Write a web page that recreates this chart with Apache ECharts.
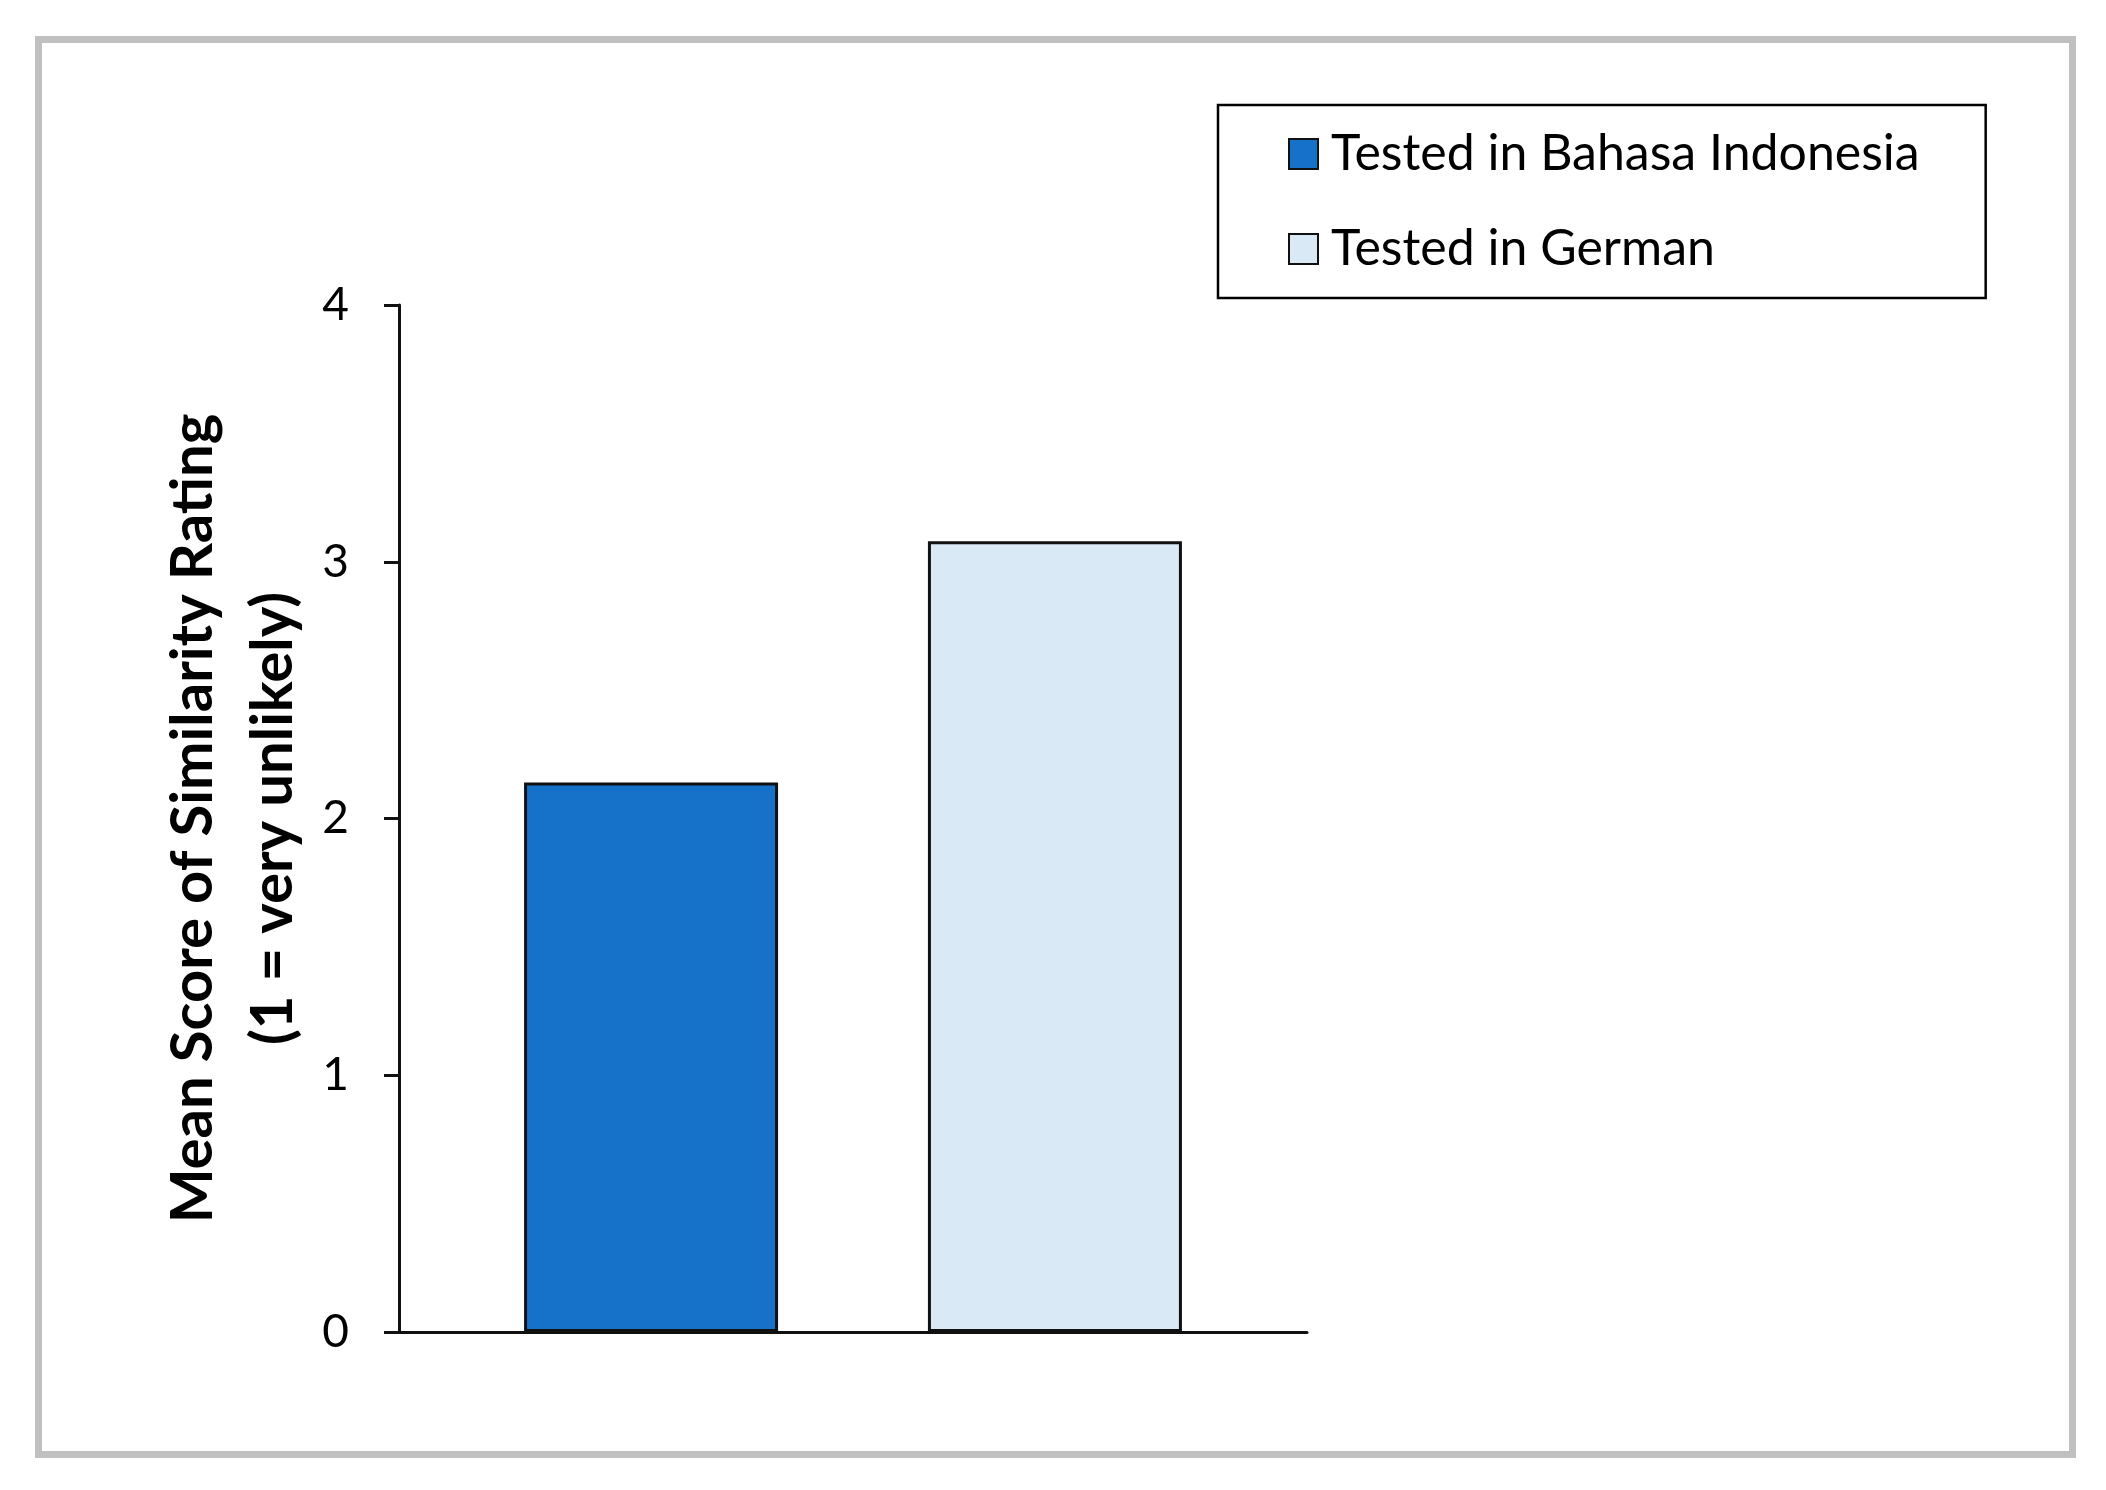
<!DOCTYPE html>
<html>
<head>
<meta charset="utf-8">
<script src="https://cdn.jsdelivr.net/npm/echarts@6/dist/echarts.min.js"></script>
<style>
html,body{margin:0;padding:0;background:#fff;}
#chart{width:2106px;height:1490px;}
</style>
</head>
<body>
<div id="chart"></div>
<script>
const categories = [''];
const seriesNames = ['Tested in Bahasa Indonesia', 'Tested in German'];
const bahasaValues = [2.14];
const germanValues = [3.08];
const yTicks = [0, 1, 2, 3, 4];
const yAxisTitle = 'Mean Score of Similarity Rating\n(1 = very unlikely)';

const chart = echarts.init(document.getElementById('chart'), null, {renderer: 'canvas'});
const FONT = 'Lato';
chart.setOption({
  backgroundColor: '#ffffff',
  animation: false,
  graphic: [{
    type: 'rect',
    shape: {x: 38.5, y: 39.5, width: 2034, height: 1415},
    style: {fill: 'none', stroke: '#c0c0c0', lineWidth: 7},
    silent: true
  }],
  grid: {left: 399, right: 799, top: 305, bottom: 158, containLabel: false},
  legend: {
    orient: 'vertical',
    left: 1218,
    top: 105,
    padding: [24, 66, 24, 70],
    itemWidth: 29,
    itemHeight: 30,
    itemGap: 45,
    borderColor: '#000',
    borderWidth: 2.5,
    backgroundColor: '#fff',
    textStyle: {fontFamily: FONT, fontSize: 50, color: '#000', lineHeight: 50, padding: [0, 0, 0, 8]},
    data: seriesNames.map(n => ({name: n, icon: 'rect'}))
  },
  xAxis: {
    type: 'category',
    data: categories,
    axisLine: {lineStyle: {color: '#111', width: 3}},
    axisTick: {show: false},
    axisLabel: {show: false},
    splitLine: {show: false}
  },
  yAxis: {
    type: 'value',
    min: yTicks[0],
    max: yTicks[yTicks.length - 1],
    interval: 1,
    axisLine: {show: true, lineStyle: {color: '#111', width: 3}},
    axisTick: {show: true, length: 15, lineStyle: {color: '#111', width: 3}},
    axisLabel: {fontFamily: FONT, fontSize: 46, color: '#000', margin: 50},
    splitLine: {show: false},
    name: yAxisTitle,
    nameLocation: 'middle',
    nameRotate: 90,
    nameGap: 86,
    nameTextStyle: {fontFamily: FONT, fontSize: 58, fontWeight: 'bold', color: '#000', lineHeight: 80}
  },
  series: [
    {
      name: seriesNames[0],
      type: 'bar',
      data: bahasaValues,
      barWidth: 254,
      barGap: '59%',
      itemStyle: {color: '#1672C8', borderColor: '#111', borderWidth: 3}
    },
    {
      name: seriesNames[1],
      type: 'bar',
      data: germanValues,
      barWidth: 254,
      barGap: '59%',
      itemStyle: {color: '#DAE9F6', borderColor: '#111', borderWidth: 3}
    }
  ]
});
</script>
</body>
</html>
